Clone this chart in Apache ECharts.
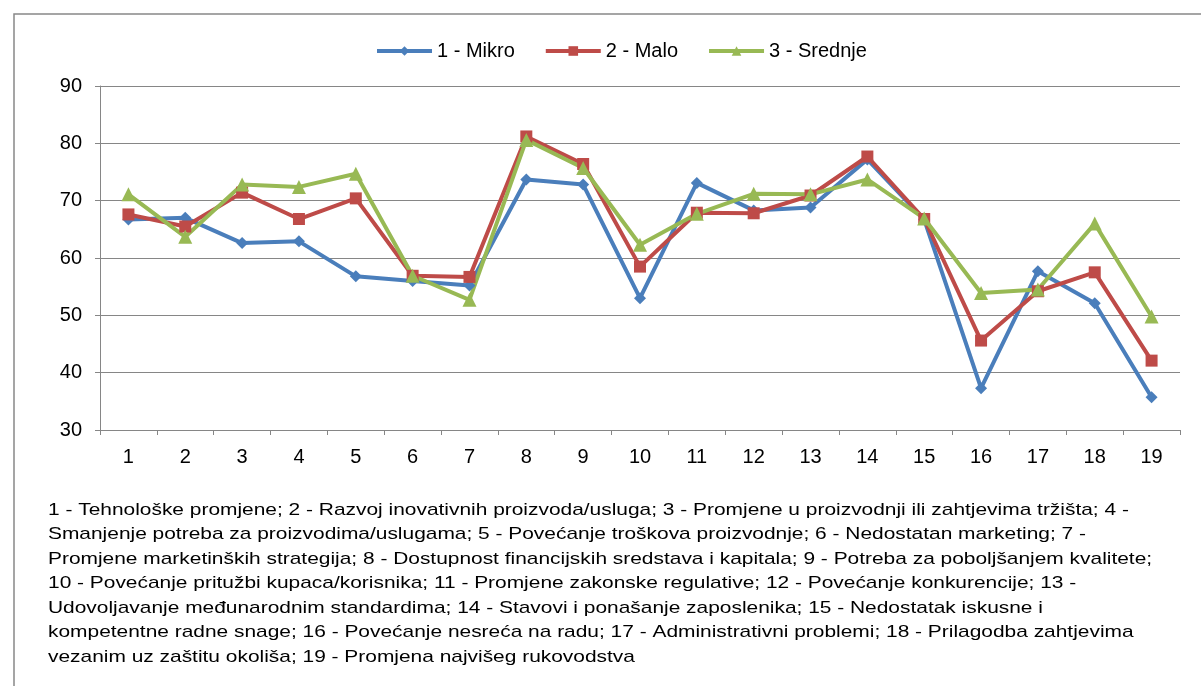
<!DOCTYPE html>
<html>
<head>
<meta charset="utf-8">
<title></title>
<script src="https://cdn.jsdelivr.net/npm/echarts@6/dist/echarts.min.js"></script>
<style>
  html, body { width: 100%; height: 100%; margin: 0; padding: 0; background: #fff; }
  #main { width: 1201px; height: 686px; }
</style>
</head>
<body>
<div id="main"></div>
<script type="text/javascript">
  // categories 1..19
  var categories = ['1','2','3','4','5','6','7','8','9','10','11','12','13','14','15','16','17','18','19'];
  var seriesNames = ['1 - Mikro', '2 - Malo', '3 - Srednje'];
  var mikro   = [66.7, 67.0, 62.6, 62.9, 56.8, 56.0, 55.2, 73.7, 72.8, 53.0, 73.1, 68.3, 68.8, 77.2, 66.7, 37.3, 57.7, 52.1, 35.7];
  var malo    = [67.6, 65.5, 71.4, 66.8, 70.4, 56.9, 56.7, 81.2, 76.4, 58.5, 67.9, 67.8, 70.9, 77.7, 66.8, 45.6, 54.2, 57.5, 42.1];
  var srednje = [71.1, 63.7, 72.8, 72.4, 74.7, 56.9, 52.7, 80.6, 75.7, 62.3, 67.7, 71.2, 71.1, 73.7, 66.9, 53.9, 54.5, 66.0, 49.8];

  var noteLines = [
    '1 - Tehnološke promjene; 2 - Razvoj inovativnih proizvoda/usluga; 3 - Promjene u proizvodnji ili zahtjevima tržišta; 4 -',
    'Smanjenje potreba za proizvodima/uslugama; 5 - Povećanje troškova proizvodnje; 6 - Nedostatan marketing; 7 -',
    'Promjene marketinških strategija; 8 - Dostupnost financijskih sredstava i kapitala; 9 - Potreba za poboljšanjem kvalitete;',
    '10 - Povećanje pritužbi kupaca/korisnika; 11 - Promjene zakonske regulative; 12 - Povećanje konkurencije; 13 -',
    'Udovoljavanje međunarodnim standardima; 14 - Stavovi i ponašanje zaposlenika; 15 - Nedostatak iskusne i',
    'kompetentne radne snage; 16 - Povećanje nesreća na radu; 17 - Administrativni problemi; 18 - Prilagodba zahtjevima',
    'vezanim uz zaštitu okoliša; 19 - Promjena najvišeg rukovodstva'
  ];

  var font = '"Liberation Sans", Arial, sans-serif';
  var myChart = echarts.init(document.getElementById('main'));

  function lineSeries(name, data, color, symbol, size) {
    return {
      name: name,
      type: 'line',
      data: data,
      symbol: symbol,
      symbolSize: size,
      lineStyle: { color: color, width: 4 },
      itemStyle: { color: color },
      animation: false
    };
  }

  myChart.setOption({
    textStyle: { fontFamily: font },
    legend: {
      top: 36,
      left: 370,
      itemWidth: 55,
      itemHeight: 12,
      itemGap: 29,
      lineStyle: { width: 4 },
      textStyle: { fontSize: 20, color: '#000', fontFamily: font },
      data: seriesNames
    },
    grid: { left: 100, right: 21, top: 86, bottom: 256 },
    xAxis: {
      type: 'category',
      data: categories,
      boundaryGap: true,
      axisLine: { lineStyle: { color: '#868686', width: 1 } },
      axisTick: { show: true, length: 5, lineStyle: { color: '#868686' } },
      axisLabel: { fontSize: 20, color: '#000', margin: 17 }
    },
    yAxis: {
      type: 'value',
      min: 30,
      max: 90,
      interval: 10,
      axisLine: { show: true, lineStyle: { color: '#868686', width: 1 } },
      axisTick: { show: true, length: 5, lineStyle: { color: '#868686' } },
      axisLabel: { fontSize: 20, color: '#000', margin: 18 },
      splitLine: { lineStyle: { color: '#868686', width: 1 } }
    },
    graphic: [
      {
        type: 'rect',
        shape: { x: 14, y: 14, width: 1200, height: 700 },
        style: { fill: 'none', stroke: '#888', lineWidth: 1.5 },
        silent: true
      },
      {
        type: 'text',
        x: 48,
        y: 498,
        scaleX: 1.23,
        style: {
          text: noteLines.join('\n'),
          font: '17px ' + font,
          lineHeight: 24.5,
          fill: '#000'
        }
      }
    ],
    series: [
      lineSeries(seriesNames[0], mikro, '#4A7EBB', 'diamond', 12),
      lineSeries(seriesNames[1], malo, '#BE4B48', 'rect', 12),
      lineSeries(seriesNames[2], srednje, '#98B954', 'triangle', 14)
    ]
  });

  window.addEventListener('resize', function () {
    myChart.resize();
  });
</script>
</body>
</html>
